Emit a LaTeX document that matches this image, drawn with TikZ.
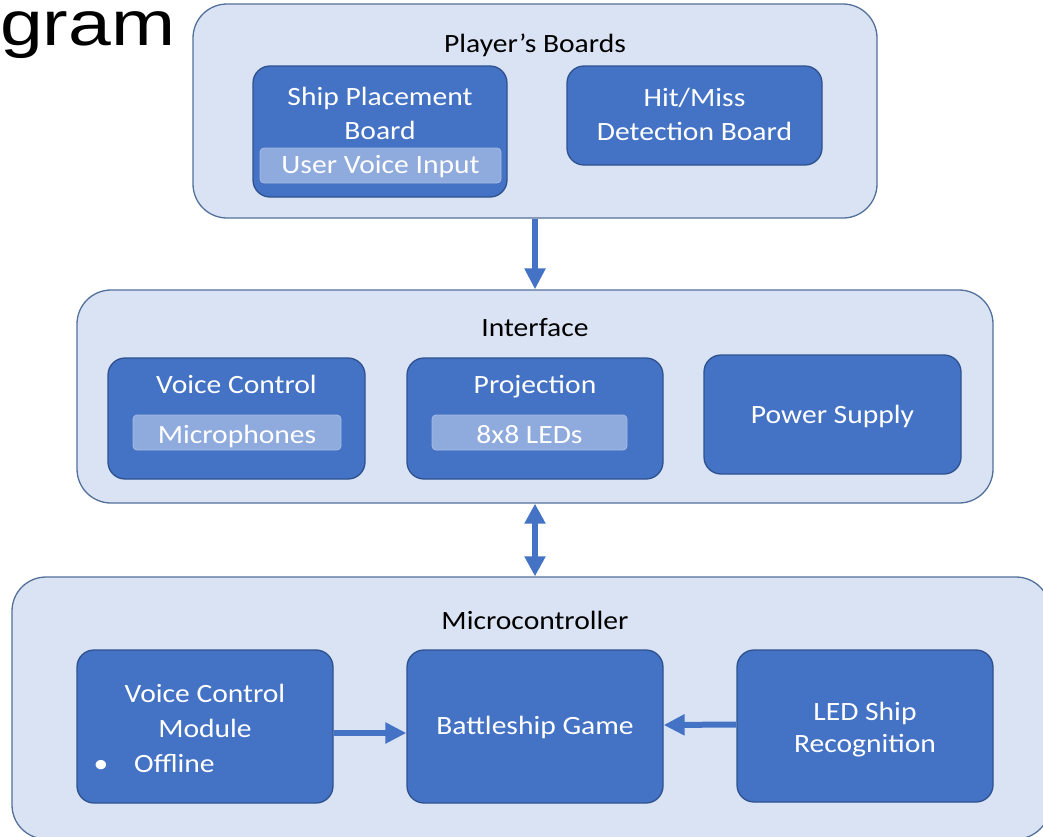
\documentclass[tikz,border=0pt]{standalone}
\usepackage{fontspec}
\setmainfont[FakeStretch=1.12]{Carlito}
\newfontfamily\arialf[FakeStretch=1.22]{Liberation Sans}
\usetikzlibrary{arrows.meta,calc}
\definecolor{outerfill}{HTML}{DAE3F3}
\definecolor{outerline}{HTML}{52709A}
\definecolor{innerfill}{HTML}{4472C4}
\definecolor{innerline}{HTML}{2F528F}
\definecolor{subfill}{HTML}{8FAADC}
\definecolor{subline}{HTML}{A6BCE3}
\begin{document}
\begin{tikzpicture}[x=1pt,y=-1pt,
  outerbox/.style={draw=outerline, line width=1.3pt, fill=outerfill, rounded corners=34pt, inner sep=0pt},
  innerbox/.style={draw=innerline, line width=1.3pt, fill=innerfill, rounded corners=17pt, inner sep=0pt},
  subbox/.style={draw=subline, line width=0.8pt, fill=subfill, rounded corners=4pt, inner sep=0pt},
  lbl/.style={text=white, font=\fontsize{26.4}{32}\selectfont, anchor=base, inner sep=0pt},
  ttl/.style={text=black, font=\fontsize{26.4}{32}\selectfont, anchor=base, inner sep=0pt},
  arr/.style={draw=innerfill, line width=6pt, -{Triangle[length=21pt,width=20pt]}},
  darr/.style={draw=innerfill, line width=6pt, {Triangle[length=20pt,width=20pt]}-{Triangle[length=20pt,width=20pt]}},
]
\useasboundingbox (0,0) rectangle (1043,836);
\clip (0,0) rectangle (1043,836);
\fill[white] (0,0) rectangle (1043,836);

% cropped heading
\node[anchor=base west, inner sep=0pt, font=\arialf\fontsize{63}{70}\selectfont] (head) at (0,45) {gram};

% Player's Boards
\node[outerbox, minimum width=684pt, minimum height=214pt] (pb) at (535,111) {};
\node[ttl] (pbt) at (535,52) {Player’s Boards};
\node[innerbox, minimum width=254pt, minimum height=131pt] (spb) at (380,131.5) {};
\node[lbl] (spb1) at (380,105) {Ship Placement};
\node[lbl] (spb2) at (380,139) {Board};
\node[subbox, minimum width=241pt, minimum height=35pt] (uvi) at (380.5,165.5) {};
\node[lbl] (uvit) at (380.5,173) {User Voice Input};
\node[innerbox, minimum width=255pt, minimum height=99pt] (hmd) at (694.5,115.5) {};
\node[lbl] (hmd1) at (694.5,106) {Hit/Miss};
\node[lbl] (hmd2) at (694.5,140) {Detection Board};

% Interface
\node[outerbox, minimum width=916pt, minimum height=213pt] (if) at (535,396.5) {};
\node[ttl] (ift) at (535,336) {Interface};
\node[innerbox, minimum width=257pt, minimum height=121pt] (vc) at (236.5,418.5) {};
\node[lbl] (vct) at (236.5,393) {Voice Control};
\node[subbox, minimum width=208pt, minimum height=35pt] (mic) at (237,432.5) {};
\node[lbl] (mict) at (237,443) {Microphones};
\node[innerbox, minimum width=256pt, minimum height=121pt] (pr) at (535,418.5) {};
\node[lbl] (prt) at (535,393) {Projection};
\node[subbox, minimum width=195pt, minimum height=35pt] (led) at (529.5,432.5) {};
\node[lbl] (ledt) at (529.5,443) {8x8 LEDs};
\node[innerbox, minimum width=257pt, minimum height=119pt] (ps) at (832.5,414.5) {};
\node[lbl] (pst) at (832.5,423) {Power Supply};

% Microcontroller
\node[outerbox, minimum width=1038pt, minimum height=262pt] (mc) at (531,708) {};
\node[ttl] (mct) at (535,629) {Microcontroller};
\node[innerbox, minimum width=256pt, minimum height=153pt] (vcm) at (205,726.5) {};
\node[lbl] (vcm1) at (205,702) {Voice Control};
\node[lbl] (vcm2) at (205,737) {Module};
\node[lbl] (bul) at (101,772) {•};
\node[lbl, anchor=base west] (vcm3) at (134,772) {Offline};
\node[innerbox, minimum width=256pt, minimum height=153pt] (bg) at (535,726.5) {};
\node[lbl] (bgt) at (535,734) {Battleship Game};
\node[innerbox, minimum width=256pt, minimum height=152pt] (lsr) at (865,726) {};
\node[lbl] (lsr1) at (865,720) {LED Ship};
\node[lbl] (lsr2) at (865,752) {Recognition};

% connectors
\draw[arr] (pb.south) -- (if.north);
\draw[darr] (if.south) -- (if.south |- mc.north);
\draw[arr] ([yshift=-6.5pt]vcm.east) -- ([yshift=-6.5pt]bg.west);
\draw[arr] ([yshift=1.5pt]lsr.west) -- ([yshift=1.5pt]bg.east);
\end{tikzpicture}
\end{document}
